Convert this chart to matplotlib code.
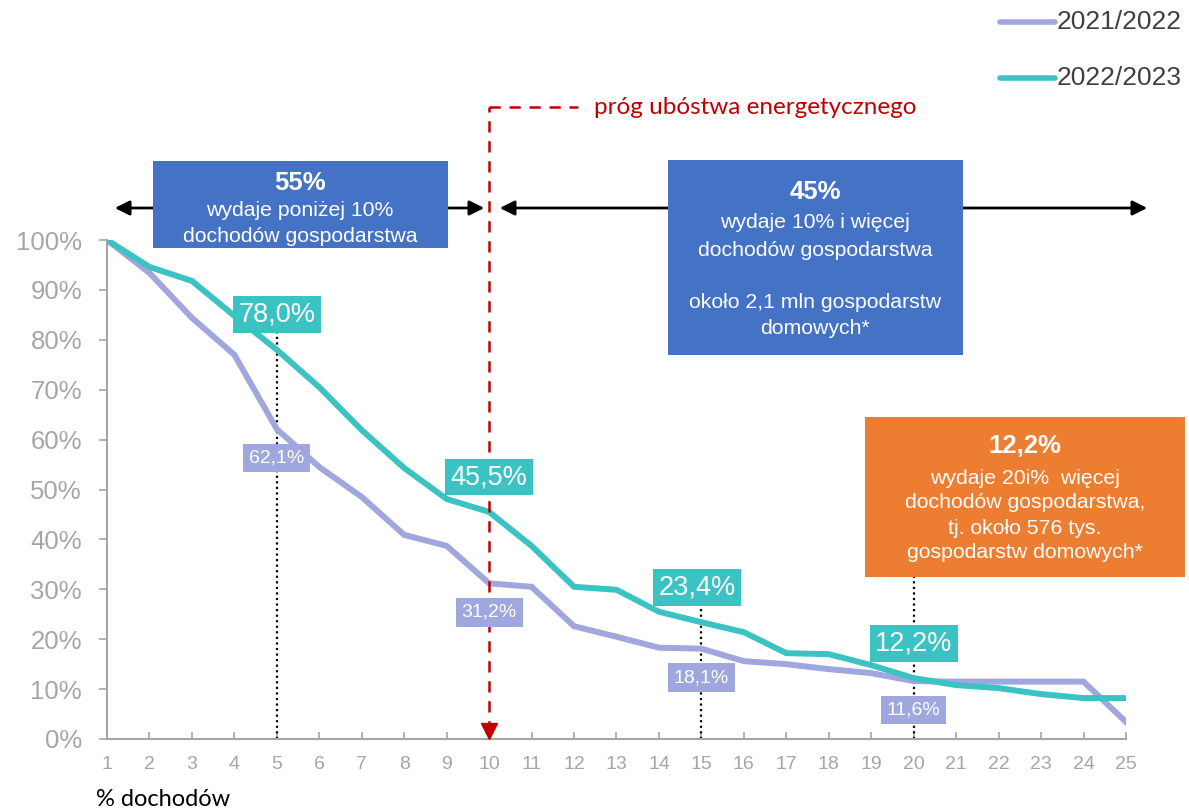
import matplotlib.pyplot as plt
from matplotlib.patches import Rectangle, FancyArrowPatch
from matplotlib.lines import Line2D
from matplotlib.ticker import FuncFormatter

W, H = 1189, 809

# dane
dochody = list(range(1, 26))
s_2122 = [100, 93.4, 84.4, 77.0, 62.1, 54.5, 48.5, 40.9, 38.7, 31.2, 30.5, 22.6, 20.5,
          18.3, 18.1, 15.6, 15.0, 14.0, 13.2, 11.6, 11.5, 11.5, 11.5, 11.5, 3.4]
s_2223 = [100, 94.6, 91.8, 84.8, 78.0, 70.5, 61.9, 54.3, 48.1, 45.5, 38.7, 30.5, 29.9,
          25.5, 23.4, 21.4, 17.2, 17.0, 14.8, 12.2, 10.8, 10.2, 9.0, 8.2, 8.2]
etykiety_x = [5, 10, 15, 20]
serie = ['2021/2022', '2022/2023']

fiolet = '#A0A6DE'
turkus = '#3BC3C4'
niebieski = '#4472C4'
pomarancz = '#ED7D31'
czerwony = '#C00000'
szary = '#A6A6A6'

plt.rcParams['font.family'] = ['Liberation Sans', 'DejaVu Sans']

fig = plt.figure(figsize=(W / 100, H / 100), dpi=100)
ax = fig.add_axes([107 / W, (H - 739) / H, 1019 / W, 499 / H])


def fp(x, y):
    # piksele (od gory) -> wspolrzedne figury
    return (x / W, 1 - y / H)


def pct(v):
    return f'{v:.1f}%'.replace('.', ',')


ax.plot(dochody, s_2122, color=fiolet, lw=4.3, solid_joinstyle='miter', zorder=3)
ax.plot(dochody, s_2223, color=turkus, lw=4.3, solid_joinstyle='miter', zorder=4)

ax.set_xlim(1, 25)
ax.set_ylim(0, 100)
ax.set_xticks(dochody)
ax.set_yticks(range(0, 101, 10))
ax.yaxis.set_major_formatter(FuncFormatter(lambda v, p: f'{v:.0f}%'))
for s in ['top', 'right']:
    ax.spines[s].set_visible(False)
for s in ['left', 'bottom']:
    ax.spines[s].set_color(szary)
    ax.spines[s].set_linewidth(1.5)
ax.tick_params(axis='y', colors=szary, labelsize=18.5, length=6, width=1.2, pad=12)
ax.tick_params(axis='x', colors=szary, labelsize=14, length=5, width=1.2,
               direction='in', pad=12)

# linie kropkowane i etykiety danych
for x in etykiety_x:
    v1 = s_2122[x - 1]
    v2 = s_2223[x - 1]
    if x != 10:
        top = 32.5 if x == 20 else v2 + 4
        ax.plot([x, x], [0, top], color='black', ls=(0, (1, 1.5)), lw=1.6, zorder=2)
    dx = -0.1 if x == 15 else 0
    ax.text(x + dx, v2 + 7, pct(v2), color='white', fontsize=19.5, ha='center', va='center',
            zorder=6, bbox=dict(boxstyle='square,pad=0.2', fc=turkus, ec='none'))
    ax.text(x, v1 - 5.8, pct(v1), color='white', fontsize=14, ha='center', va='center',
            zorder=6, bbox=dict(boxstyle='square,pad=0.3', fc=fiolet, ec='none'))

# prog ubostwa energetycznego
y_prog = (739 - 107) / 4.99
ax.plot([10, 10], [1.5, y_prog], color=czerwony, lw=1.8, ls=(0, (4.5, 3.5)),
        clip_on=False, zorder=5)
ax.plot([10, 12.1], [y_prog, y_prog], color=czerwony, lw=1.8, ls=(0, (4.5, 3.5)),
        clip_on=False, zorder=5)
ax.plot([10], [1.6], marker='v', ms=11, color=czerwony, clip_on=False, zorder=5)
fig.text(*fp(594, 108), 'próg ubóstwa energetycznego', color=czerwony, fontsize=17.5,
         family=['Lato', 'DejaVu Sans'], va='center', ha='left')

# strzalki
for a, b in [(112, 487), (497, 1150)]:
    fig.add_artist(FancyArrowPatch(fp(a, 208), fp(b, 208), transform=fig.transFigure,
                                   arrowstyle='<|-|>', mutation_scale=22, lw=2,
                                   color='black', zorder=2))


def ramka(x0, y0, x1, y1, kolor):
    fig.add_artist(Rectangle(fp(x0, y1), (x1 - x0) / W, (y1 - y0) / H,
                             transform=fig.transFigure, fc=kolor, ec='none', zorder=3))


def linie(xc, wiersze):
    for y, t, bold in wiersze:
        fig.text(*fp(xc, y), t, color='white', ha='center', va='center', zorder=4,
                 fontsize=18.5 if bold else 15.3, fontweight='bold' if bold else 'normal')


ramka(153, 161, 448, 248, niebieski)
linie(300, [(183, '55%', True), (211, 'wydaje poniżej 10%', False),
            (236, 'dochodów gospodarstwa', False)])

ramka(668, 160, 963, 355, niebieski)
linie(815, [(192, '45%', True), (222, 'wydaje 10% i więcej', False),
            (250, 'dochodów gospodarstwa', False), (302, 'około 2,1 mln gospodarstw', False),
            (328, 'domowych*', False)])

ramka(865, 417, 1185, 577, pomarancz)
linie(1025, [(446, '12,2%', True), (478, 'wydaje 20i%  więcej', False),
             (503, 'dochodów gospodarstwa,', False), (528, 'tj. około 576 tys.', False),
             (553, 'gospodarstw domowych*', False)])

# legenda
for y, kolor, nazwa in [(22, fiolet, serie[0]), (78, turkus, serie[1])]:
    fig.add_artist(Line2D([1000 / W, 1055 / W], [1 - y / H, 1 - y / H],
                          transform=fig.transFigure, color=kolor, lw=4,
                          solid_capstyle='round'))
    fig.text(*fp(1057, y), nazwa, color='#404040', fontsize=19, va='center', ha='left')

fig.text(*fp(96, 800), '% dochodów', color='black', fontsize=17,
         family=['Lato', 'DejaVu Sans'], va='center', ha='left')

fig.savefig('out.png', dpi=100)
